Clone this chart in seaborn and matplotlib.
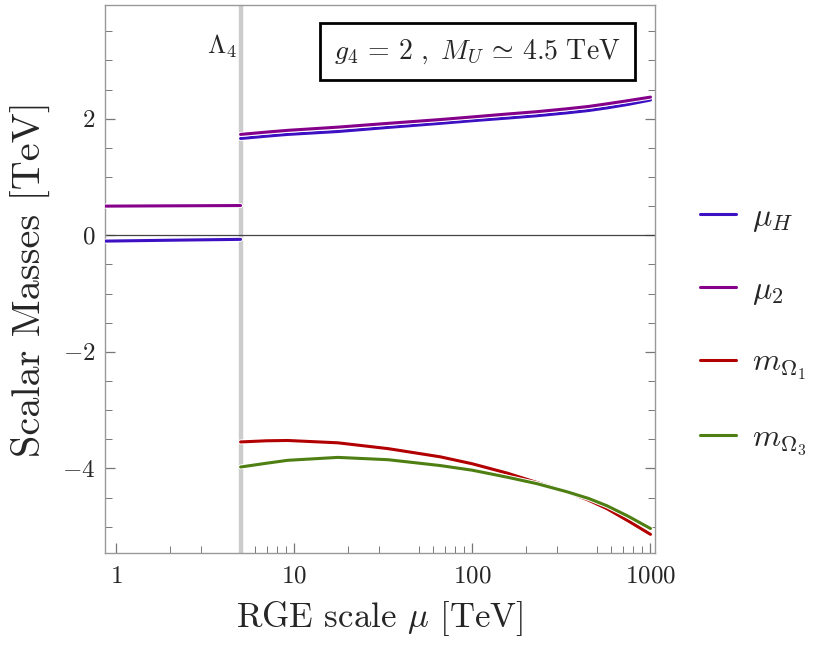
import numpy as np
import pandas as pd
import matplotlib
matplotlib.use('Agg')
import matplotlib.pyplot as plt
import matplotlib.patheffects as pe
import matplotlib.ticker as mticker
from matplotlib.lines import Line2D
import seaborn as sns

# values (mu in TeV, masses in TeV)
lam4 = 5.0
mu_low = [0.867, 2.0, 5.0]
muH_low = [-0.10, -0.085, -0.07]
mu2_low = [0.50, 0.505, 0.51]

mu_high = [5.0, 7.0, 9.2, 17.6, 33.7, 66.0, 100.0, 157.0, 230.0, 340.0, 450.0, 570.0, 750.0, 1000.0]
muH_high = [1.66, 1.70, 1.73, 1.78, 1.85, 1.92, 1.965, 2.01, 2.05, 2.10, 2.14, 2.185, 2.245, 2.32]
mu2_high = [1.73, 1.77, 1.80, 1.855, 1.92, 1.985, 2.03, 2.08, 2.12, 2.17, 2.21, 2.255, 2.31, 2.37]
mOm1 = [-3.545, -3.525, -3.52, -3.56, -3.66, -3.80, -3.92, -4.08, -4.24, -4.40, -4.545, -4.69, -4.90, -5.13]
mOm3 = [-3.975, -3.91, -3.86, -3.81, -3.85, -3.95, -4.03, -4.15, -4.26, -4.40, -4.515, -4.64, -4.82, -5.03]

labels = [r'$\mu_H$', r'$\mu_2$', r'$m_{\Omega_1}$', r'$m_{\Omega_3}$']
colors = ['#3d10c4', '#85008a', '#b20000', '#4d7f12']

sns.set_style('ticks')
plt.rcParams['font.family'] = ['serif']
plt.rcParams['font.serif'] = ['cmr10', 'DejaVu Serif']
plt.rcParams['mathtext.fontset'] = 'cm'
plt.rcParams['axes.formatter.use_mathtext'] = True
plt.rcParams['axes.unicode_minus'] = True

fig = plt.figure(figsize=(8.3, 6.6), dpi=100)
ax = fig.add_axes([105 / 830, 1 - 553 / 660, 550 / 830, 548 / 660])

stroke = [pe.Stroke(linewidth=3.6, foreground='white'), pe.Normal()]

ax.axvline(lam4, color='#cccccc', lw=3.2, zorder=1)
ax.axhline(0, color='#444444', lw=0.9, zorder=1)

low = pd.DataFrame({'mu': mu_low, 'muH': muH_low, 'mu2': mu2_low})
high = pd.DataFrame({'mu': mu_high, 'muH': muH_high, 'mu2': mu2_high,
                     'm1': mOm1, 'm3': mOm3})

for col, c in [('muH', colors[0]), ('mu2', colors[1])]:
    sns.lineplot(data=low, x='mu', y=col, color=c, lw=2.2, ax=ax,
                 path_effects=stroke, zorder=3)
for col, c in [('muH', colors[0]), ('mu2', colors[1]), ('m1', colors[2]), ('m3', colors[3])]:
    sns.lineplot(data=high, x='mu', y=col, color=c, lw=2.2, ax=ax,
                 path_effects=stroke, zorder=3)

ax.set_xscale('log')
ax.set_xlim(0.867, 1060)
ax.set_ylim(-5.45, 3.95)

ax.xaxis.set_major_locator(mticker.FixedLocator([1, 10, 100, 1000]))
ax.xaxis.set_major_formatter(mticker.FixedFormatter(['$1$', '$10$', '$100$', '$1000$']))
ax.xaxis.set_minor_locator(mticker.FixedLocator(
    [m * 10 ** k for k in range(0, 3) for m in (2, 3, 5, 6, 7, 8, 9)]))
ax.xaxis.set_minor_formatter(mticker.NullFormatter())
ax.yaxis.set_major_locator(mticker.FixedLocator([-4, -2, 0, 2]))
ax.yaxis.set_minor_locator(mticker.MultipleLocator(0.5))

ax.tick_params(which='both', direction='in', color='#777777', labelsize=18,
               left=True, right=True, bottom=True, top=False)
ax.tick_params(which='major', length=7, width=0.9)
ax.tick_params(which='minor', length=5, width=0.7)
ax.tick_params(axis='x', pad=9)
ax.tick_params(axis='y', pad=7)
for s in ax.spines.values():
    s.set_color('#999999')
    s.set_linewidth(1.0)

ax.set_xlabel(r'RGE scale $\mu$ [TeV]', fontsize=25, labelpad=8)
ax.set_ylabel('Scalar Masses [TeV]', fontsize=29, labelpad=8)

ax.text(0.24, 0.925, r'$\Lambda_4$', transform=ax.transAxes, fontsize=19,
        ha='right', va='center')
ax.text(0.677, 0.915, r'$g_4\,=\,2\ ,\ M_U\,\simeq\,4.5\ \mathrm{TeV}$',
        transform=ax.transAxes, fontsize=20, ha='center', va='center',
        bbox=dict(boxstyle='square,pad=0.5', fc='white', ec='black', lw=2))

handles = [Line2D([], [], color=c, lw=2.2) for c in colors]
fig.legend(handles, labels, loc='center left', bbox_to_anchor=(0.843, 0.50),
           frameon=False, fontsize=23, handlelength=1.15, handletextpad=0.5,
           labelspacing=1.3, borderpad=0, borderaxespad=0)

fig.savefig('out.png', dpi=100)
